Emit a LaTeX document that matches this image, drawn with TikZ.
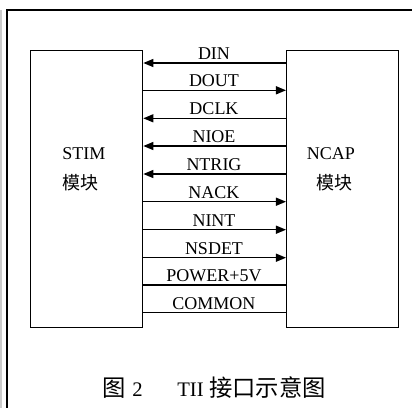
\documentclass[tikz,border=0pt]{standalone}
\usepackage{fontspec}
\setmainfont{Liberation Serif}
\newfontfamily\cjk{Noto Sans CJK SC}
\usetikzlibrary{arrows.meta}
\begin{document}
\begin{tikzpicture}[x=0.75pt,y=-0.75pt,
  boxst/.style={draw,line width=1pt,minimum width=84pt,minimum height=207.9pt,inner sep=0pt,anchor=north west},
  sig/.style={line width=1pt},
  tipl/.style={{Triangle[length=7.5pt,width=6pt]}-},
  tipr/.style={-{Triangle[length=7.5pt,width=6pt]}},
  plain/.style={},
  lab/.style={font=\fontsize{13.5}{15}\selectfont,anchor=base,inner sep=0pt},
  mod/.style={font=\fontsize{13.5}{15}\selectfont,inner sep=0pt}]
\useasboundingbox (0,0) rectangle (412,408);
\draw[gray!40,line width=1.5pt] (1.5,10) -- (1.5,408);
\draw[line width=1.5pt] (7.5,408) -- (7.5,9.7) -- (412,9.7);
\node[boxst] (stim) at (30,49.5) {};
\node[boxst] (ncap) at (286,49.5) {};
\node[mod,anchor=west] (stimA) at (62,154) {STIM};
\node[mod,anchor=west] (stimB) at (62,182.7) {\cjk 模块};
\node[mod] (ncapA) at (331,154) {NCAP};
\node[mod] (ncapB) at (335,182.7) {\cjk 模块};
\foreach \y/\t/\d [count=\i] in {63/DIN/tipl,90.3/DOUT/tipr,118.3/DCLK/tipl,146/NIOE/tipl,174/NTRIG/tipl,201.7/NACK/tipr,229.7/NINT/tipr,257.7/NSDET/tipr,285/POWER+5V/plain,312.7/COMMON/plain}{
  \coordinate (a\i) at (stim.east |- 0,\y);
  \coordinate (b\i) at (ncap.west |- 0,\y);
  \draw[sig,\d] (a\i) -- (b\i);
  \node[lab] (t\i) at (214,\y-3.5) {\t};
}
\node[inner sep=0pt] (cap) at (214,388) {\fontsize{17.5}{20}\selectfont{\cjk 图}\hspace{5pt}{\fontsize{15.5}{18}\selectfont 2}\hspace{26pt}{\fontsize{15.5}{18}\selectfont TII}\hspace{4pt}{\cjk 接口示意图}};
\end{tikzpicture}
\end{document}
